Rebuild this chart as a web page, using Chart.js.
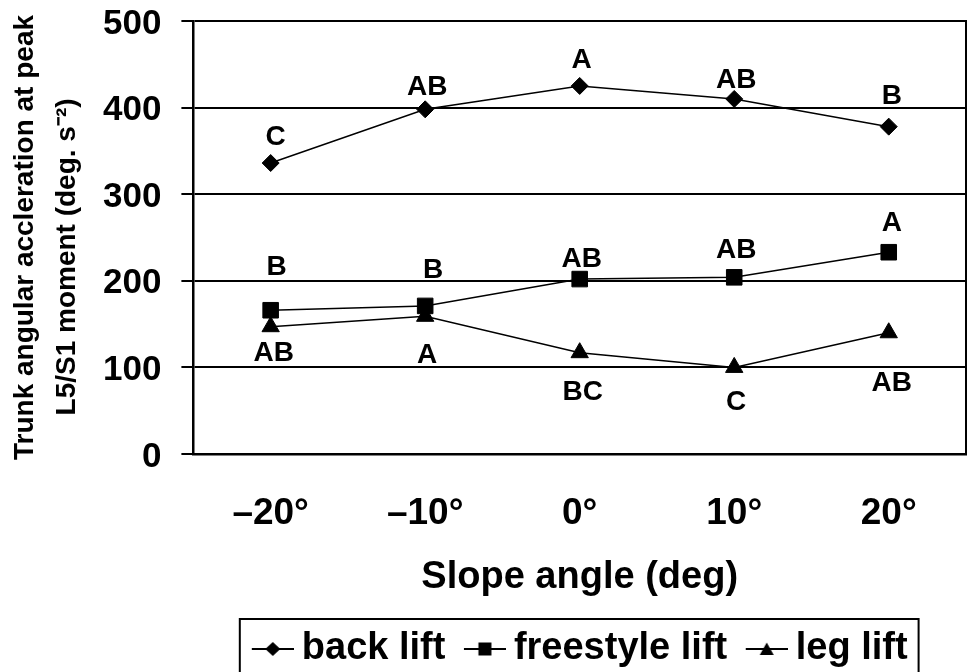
<!DOCTYPE html>
<html><head><meta charset="utf-8">
<script src="https://cdn.jsdelivr.net/npm/chart.js@4/dist/chart.umd.min.js"></script>
<style>
html,body{margin:0;padding:0;background:#fff;overflow:hidden;}
#wrap{width:967px;height:690px;position:relative;}
</style></head><body>
<div id="wrap"><canvas id="c"></canvas></div>
<script>
// ---- data ----
const categories = ['\u201320\u00B0', '\u201310\u00B0', '0\u00B0', '10\u00B0', '20\u00B0'];
const backLift = [336, 398, 425, 410, 378];
const freestyleLift = [166, 171, 202, 204, 233];
const legLift = [147, 159, 117, 100, 140];
const backLetters = ['C', 'AB', 'A', 'AB', 'B'];
const freestyleLetters = ['B', 'B', 'AB', 'AB', 'A'];
const legLetters = ['AB', 'A', 'BC', 'C', 'AB'];
const yTicks = [0, 100, 200, 300, 400, 500];
const seriesNames = ['back lift', 'freestyle lift', 'leg lift'];
const xTitle = 'Slope angle (deg)';
const yTitle = ['Trunk angular accleration at peak', 'L5/S1 moment (deg. s\u207B\u00B2)\u00A0\u00A0\u00A0\u00A0\u00A0'];

// ---- style ----
const FONT = '"Liberation Sans", Arial, sans-serif';
Chart.defaults.font.family = FONT;
Chart.defaults.color = '#000';

const letterStyle = {
  font: 'bold 28px ' + FONT,
  offsets: [
    [[5, -26], [2, -22], [2, -26], [2, -19], [3, -30]],
    [[6, -43], [8, -36], [2, -20], [2, -27], [3, -29]],
    [[3, 27], [2, 39], [3, 40], [2, 35], [3, 51]]
  ]
};

// legend icon: transparent 11px on the left, 42px line with marker
function legendIcon(shape) {
  const c = document.createElement('canvas');
  c.width = 53; c.height = 20;
  const g = c.getContext('2d');
  g.strokeStyle = '#000'; g.fillStyle = '#000'; g.lineWidth = 2;
  g.beginPath(); g.moveTo(11, 10); g.lineTo(53, 10); g.stroke();
  const cx = 32;
  g.beginPath();
  if (shape === 'diamond') { g.moveTo(cx, 3); g.lineTo(cx + 7.5, 10); g.lineTo(cx, 17); g.lineTo(cx - 7.5, 10); }
  else if (shape === 'square') { g.rect(cx - 6.5, 3.5, 13, 13); }
  else { g.moveTo(cx, 3.5); g.lineTo(cx + 7, 16); g.lineTo(cx - 7, 16); }
  g.closePath(); g.fill();
  return c;
}
const legendIcons = [legendIcon('diamond'), legendIcon('square'), legendIcon('triangle')];

const letterPlugin = {
  id: 'letters',
  afterDatasetsDraw(chart) {
    const ctx = chart.ctx;
    ctx.save();
    ctx.font = letterStyle.font;
    ctx.fillStyle = '#000';
    ctx.textAlign = 'center';
    ctx.textBaseline = 'middle';
    [backLetters, freestyleLetters, legLetters].forEach((letters, i) => {
      const meta = chart.getDatasetMeta(i);
      meta.data.forEach((pt, j) => {
        const [dx, dy] = letterStyle.offsets[i][j];
        ctx.fillText(letters[j], pt.x + dx, pt.y + dy);
      });
    });
    ctx.restore();
  }
};

const framePlugin = {
  id: 'frame',
  afterDraw(chart) {
    const {ctx, chartArea: a, legend} = chart;
    ctx.save();
    ctx.strokeStyle = '#000';
    ctx.lineWidth = 2;
    ctx.beginPath(); ctx.moveTo(a.right, a.top - 1); ctx.lineTo(a.right, a.bottom + 1); ctx.stroke();
    const hb = legend.legendHitBoxes;
    const l = hb[0].left - 12;
    const last = hb[hb.length - 1];
    const r = last.left + last.width + 11;
    const t = hb[0].top - 11;
    ctx.strokeRect(l, t, r - l, chart.height + 20 - t);
    ctx.restore();
  }
};

const lineDs = (label, data, style, radius) => ({
  label, data,
  borderColor: '#000', borderWidth: 1.5,
  backgroundColor: '#000',
  pointStyle: style, pointRadius: radius,
  pointBackgroundColor: '#000', pointBorderColor: '#000', pointBorderWidth: 1,
  tension: 0, fill: false
});

new Chart(document.getElementById('c'), {
  type: 'line',
  data: {
    labels: categories,
    datasets: [
      lineDs(seriesNames[0], backLift, 'rectRot', 8.5),
      lineDs(seriesNames[1], freestyleLift, 'rect', 11),
      lineDs(seriesNames[2], legLift, 'triangle', 10)
    ]
  },
  options: {
    responsive: true,
    maintainAspectRatio: false,
    animation: false,
    events: [],
    layout: {autoPadding: false, padding: {top: 21, right: 1, bottom: 12, left: 0}},
    plugins: {
      tooltip: {enabled: false},
      legend: {
        position: 'bottom',
        fullSize: false,
        labels: {
          font: {size: 38, weight: 'bold'},
          color: '#000',
          usePointStyle: true,
          pointStyleWidth: 31,
          padding: 18.5,
          generateLabels(chart) {
            return chart.data.datasets.map((ds, i) => ({
              text: ds.label, pointStyle: legendIcons[i],
              fillStyle: '#000', strokeStyle: '#000', lineWidth: 0,
              hidden: false, datasetIndex: i, fontColor: '#000'
            }));
          }
        }
      }
    },
    scales: {
      x: {
        offset: true,
        afterFit: s => { s.paddingLeft = 0; s.paddingRight = 0; },
        grid: {display: false, drawTicks: true, tickLength: 39},
        border: {display: true, color: '#000', width: 2.5},
        ticks: {font: {size: 37, weight: 'bold', lineHeight: 1.1}, color: '#000', padding: 0, maxRotation: 0, autoSkip: false},
        title: {display: true, text: xTitle, font: {size: 38, weight: 'bold', lineHeight: 1.1}, color: '#000', padding: {top: 23, bottom: 13}}
      },
      y: {
        min: 0, max: 500,
        afterBuildTicks: s => { s.ticks = yTicks.map(v => ({value: v})); },
        afterFit: s => {
          const p = s.options.ticks.padding;
          s.width -= p;
          s.paddingTop = Math.max(s.paddingTop - p, 0);
          s.paddingBottom = Math.max(s.paddingBottom - p, 0);
        },
        grid: {color: '#000', lineWidth: 2, tickLength: 12, drawTicks: true},
        border: {color: '#000', width: 2.5},
        ticks: {font: {size: 35, weight: 'bold'}, color: '#000', padding: 20, labelOffset: 3},
        title: {display: true, text: yTitle, font: {size: 28, weight: 'bold', lineHeight: 1.5}, color: '#000', padding: {top: 4, bottom: 15}}
      }
    }
  },
  plugins: [letterPlugin, framePlugin]
});
</script>
</body></html>
